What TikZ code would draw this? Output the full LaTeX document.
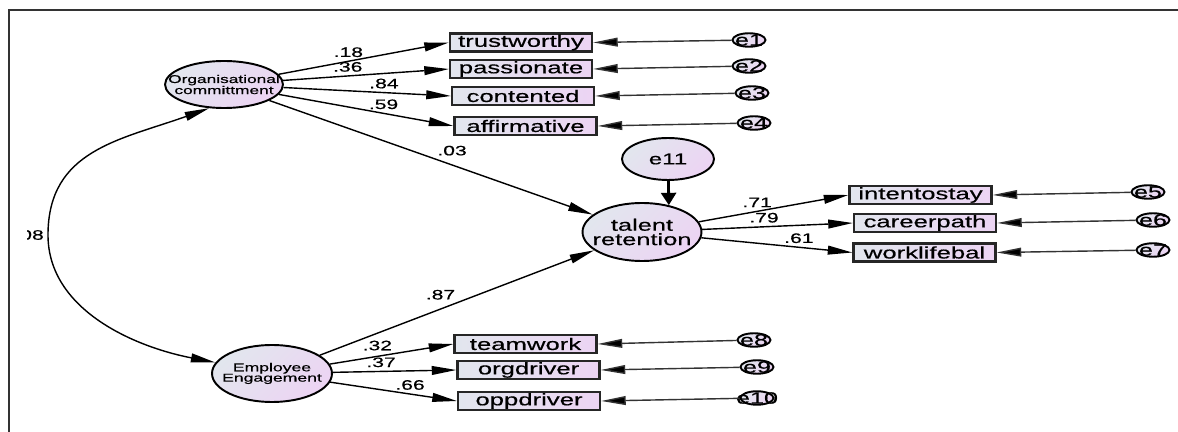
\documentclass[tikz,border=0pt]{standalone}
\usepackage{fontspec}
\setmainfont{Liberation Sans}[FakeStretch=1.54, FakeBold=0.5]
\usepackage{tikz}
\usetikzlibrary{arrows.meta,shapes.geometric}

\definecolor{semgrey}{HTML}{E2E6EE}
\definecolor{sempink}{HTML}{ECD4F3}
\definecolor{framegrey}{HTML}{333333}

\begin{document}
\begin{tikzpicture}[x=0.02cm, y=-0.02cm, >={Triangle[length=14pt,width=5pt]},
        latent/.style={ellipse, draw=black, line width=1.1pt, inner sep=-14pt, align=center,
            top color=semgrey, bottom color=sempink, shading angle=45},
        errnode/.style={latent, line width=1.1pt, minimum width=0.66cm, minimum height=0.27cm,
            font=\fontsize{9.3}{9}\selectfont},
        observed/.style={rectangle, draw=black!85, line width=1.3pt, inner sep=0pt,
            minimum width=2.84cm, minimum height=0.36cm, left color=semgrey, right color=sempink,
            font=\fontsize{9.5}{9}\selectfont},
        connector/.style={line width=0.8pt},
        errline/.style={line width=0.8pt, draw=black!80},
        weight/.style={font=\fontsize{7.8}{8}\selectfont, inner sep=2pt}]
        \useasboundingbox (0,0) rectangle (1178,432);
        \draw[framegrey, line width=1.4pt] (1178,10) -- (9,10) -- (9,432);

        \node[latent, name=oc, minimum width=2.36cm, minimum height=0.94cm,
            font=\fontsize{6.4}{6.3}\selectfont] at (224,84.5) {Organisational\\committment};
        \node[latent, name=ee, minimum width=2.4cm, minimum height=1.14cm,
            font=\fontsize{6.5}{5.9}\selectfont] at (272,373.5) {Employee\\Engagement};
        \node[latent, name=tr, minimum width=2.38cm, minimum height=1.16cm,
            font=\fontsize{9.4}{8.2}\selectfont] at (642,232) {talent\\retention};
        \node[latent, name=e11, minimum width=1.84cm, minimum height=0.84cm,
            font=\fontsize{8.9}{9}\selectfont] at (668,159) {e11};

        \node[observed, name=tw] at (521,42.5) {trustworthy};
        \node[observed, name=pa] at (521,69) {passionate};
        \node[observed, name=ct] at (523,96) {contented};
        \node[observed, name=af] at (525.5,126) {affirmative};
        \node[observed, name=it] at (920.5,195) {intentostay};
        \node[observed, name=cp] at (925,223) {careerpath};
        \node[observed, name=wl] at (924.5,252.5) {worklifebal};
        \node[observed, name=tm] at (525.5,344) {teamwork};
        \node[observed, name=od] at (528.5,370) {orgdriver};
        \node[observed, name=op] at (529,401) {oppdriver};

        \node[errnode, name=e1] at (749,40) {e1};
        \node[errnode, name=e2] at (749,66) {e2};
        \node[errnode, name=e3] at (752,93) {e3};
        \node[errnode, name=e4] at (754,123) {e4};
        \node[errnode, name=e5] at (1148,192) {e5};
        \node[errnode, name=e6] at (1153,220) {e6};
        \node[errnode, name=e7] at (1153,250) {e7};
        \node[errnode, name=e8] at (754,340) {e8};
        \node[errnode, name=e9] at (757,367) {e9};
        \node[errnode, name=e10] at (757,398) {e10};
        \coordinate (pivot) at (48,235);

        \path[->, connector]
            (oc) edge node[weight, above, pos=.41] {.18} (tw.west)
            (oc) edge node[weight, above, pos=.39] {.36} (pa.west)
            (oc) edge node[weight, above, pos=.6] {.84} (ct.west)
            (oc) edge node[weight, above, pos=.6] {.59} (af.west)
            (oc) edge node[weight, above=3pt, pos=.565] {.03} (tr)
            (ee) edge node[weight, above=3pt, pos=.44] {.87} (tr)
            (ee) edge node[weight, above=1pt, pos=.385] {.32} (tm.west)
            (ee) edge node[weight, above, pos=.39] {.37} (od.west)
            (ee) edge node[weight, above, pos=.63] {.66} (op.west)
            (tr) edge node[weight, above, pos=.39] {.71} (it.west)
            (tr) edge node[weight, above, pos=.41] {.79} (cp.west)
            (tr) edge node[weight, above, pos=.646] {.61} (wl.west);

        \path[->, errline]
            (e1) edge (tw.east)
            (e2) edge (pa.east)
            (e3) edge (ct.east)
            (e4) edge (af.east)
            (e5) edge (it.east)
            (e6) edge (cp.east)
            (e7) edge (wl.east)
            (e8) edge (tm.east)
            (e9) edge (od.east)
            (e10) edge (op.east);

        \draw[-{Triangle[length=7pt,width=8.5pt]}, line width=1.6pt] (e11) -- (tr.45);

        \begin{scope}
            \clip (27,0) rectangle (1178,432);
            \draw[<->, connector] (ee.169) .. controls (135,347) and (48,310) .. (pivot)
                node[weight, left] {.08}
                .. controls (48,150) and (120,140) .. (oc.238);
        \end{scope}
    \end{tikzpicture}
\end{document}
